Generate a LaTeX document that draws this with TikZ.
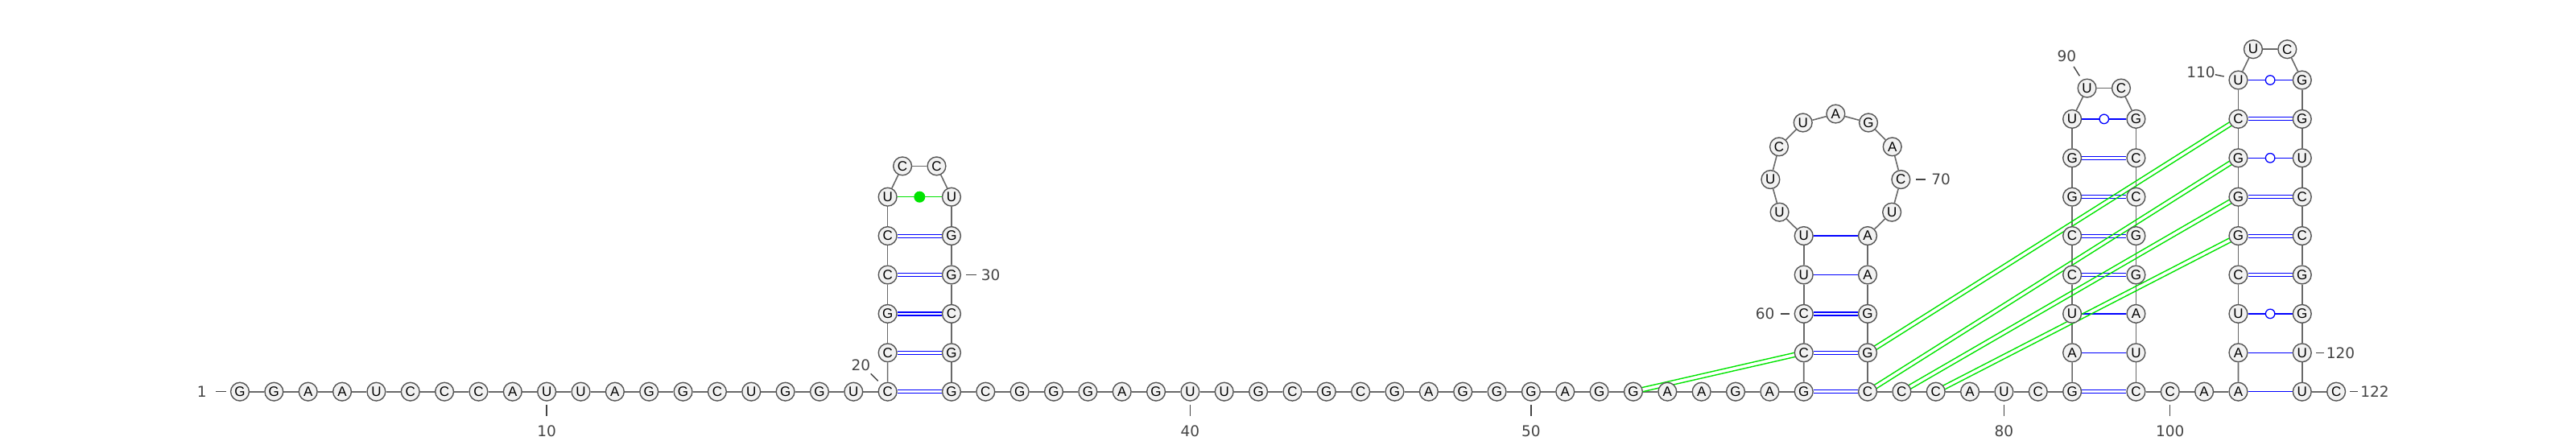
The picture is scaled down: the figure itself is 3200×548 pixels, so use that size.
\documentclass[tikz,border=0pt]{standalone}
\usepackage{fontspec}
\newfontfamily\ntfam{Liberation Sans}
\newfontfamily\lblfam{DejaVu Sans}
\usetikzlibrary{calc,backgrounds}
\definecolor{ntfill}{RGB}{242,242,242}
\definecolor{ntdraw}{RGB}{85,85,85}
\definecolor{bbcol}{RGB}{105,105,105}
\definecolor{lblcol}{RGB}{68,68,68}
\definecolor{pkgreen}{RGB}{0,228,0}
\definecolor{bpblue}{RGB}{0,0,255}
\begin{document}
\begin{tikzpicture}[x=1pt,y=-1pt,
  nt/.style={circle, draw=ntdraw, fill=ntfill, line width=1.4pt, minimum size=22.8pt, inner sep=0pt, font=\ntfam\fontsize{17}{17}\selectfont},
  bb/.style={draw=bbcol, line width=1.6pt},
  bps/.style={draw=bpblue, line width=1.3pt},
  bpd/.style={draw=bpblue, line width=1.2pt, double=white, double distance=2.8pt},
  wob/.style={circle, draw=bpblue, fill=white, line width=1.3pt, minimum size=11.5pt, inner sep=0pt},
  pk/.style={draw=pkgreen, line width=1.4pt},
  gdot/.style={circle, fill=pkgreen, minimum size=14pt, inner sep=0pt},
  lbl/.style={text=lblcol, inner sep=0pt, font=\lblfam\fontsize{18.5}{18.5}\selectfont},
  tk/.style={draw=lblcol, line width=1.4pt}]
\useasboundingbox (0,0) rectangle (3200,548);
\def\by{486.7}
\def\rs{48.4}
% ---- nucleotides ----
\foreach \b [count=\i] in {G,G,A,A,U,C,C,C,A,U,U,A,G,G,C,U,G,G,U,C}
  \node[nt] (n\i) at ({298+(\i-1)*42.35},\by) {\b};
\foreach \b [count=\k] in {C,G,C,C,U}
  {\pgfmathtruncatemacro\i{20+\k}\node[nt] (n\i) at (1102.65,{\by-\k*\rs}) {\b};}
\node[nt] (n26) at (1121.12,206.4) {C};
\node[nt] (n27) at (1163.48,206.4) {C};
\foreach \b [count=\k] in {U,G,G,C,G,G}
  {\pgfmathtruncatemacro\i{27+\k}\node[nt] (n\i) at (1181.95,{\by-(6-\k)*\rs}) {\b};}
\foreach \b [count=\k] in {C,G,G,G,A,G,U,U,G,C,G,C,G,A,G,G,G,A,G,G,A,A,G,A,G}
  {\pgfmathtruncatemacro\i{33+\k}\node[nt] (n\i) at ({1181.95+\k*42.35},\by) {\b};}
\foreach \b [count=\k] in {C,C,U,U}
  {\pgfmathtruncatemacro\i{58+\k}\node[nt] (n\i) at (2240.7,{\by-\k*\rs}) {\b};}
\foreach \b [count=\k] in {U,U,C,U,A,G,A,C,U}
  {\pgfmathtruncatemacro\i{62+\k}\pgfmathsetmacro\ang{240.68-\k*30.136}
   \node[nt] (n\i) at ({2280.35+81*cos(\ang)},{222.5-81*sin(\ang)}) {\b};}
\foreach \b [count=\k] in {A,A,G,G,C}
  {\pgfmathtruncatemacro\i{71+\k}\node[nt] (n\i) at (2320,{\by-(5-\k)*\rs}) {\b};}
\foreach \b [count=\k] in {C,C,A,U,C,G}
  {\pgfmathtruncatemacro\i{76+\k}\node[nt] (n\i) at ({2320+\k*42.35},\by) {\b};}
\foreach \b [count=\k] in {A,U,C,C,G,G,U}
  {\pgfmathtruncatemacro\i{82+\k}\node[nt] (n\i) at (2574.1,{\by-\k*\rs}) {\b};}
\node[nt] (n90) at (2592.57,109.6) {U};
\node[nt] (n91) at (2634.93,109.6) {C};
\foreach \b [count=\k] in {G,C,C,G,G,A,U,C}
  {\pgfmathtruncatemacro\i{91+\k}\node[nt] (n\i) at (2653.4,{\by-(8-\k)*\rs}) {\b};}
\foreach \b [count=\k] in {C,A,A}
  {\pgfmathtruncatemacro\i{99+\k}\node[nt] (n\i) at ({2653.4+\k*42.35},\by) {\b};}
\foreach \b [count=\k] in {A,U,C,G,G,G,C,U}
  {\pgfmathtruncatemacro\i{102+\k}\node[nt] (n\i) at (2780.45,{\by-\k*\rs}) {\b};}
\node[nt] (n111) at (2798.92,61.2) {U};
\node[nt] (n112) at (2841.28,61.2) {C};
\foreach \b [count=\k] in {G,G,U,C,C,G,G,U,U}
  {\pgfmathtruncatemacro\i{112+\k}\node[nt] (n\i) at (2859.75,{\by-(9-\k)*\rs}) {\b};}
\node[nt] (n122) at (2902.1,\by) {C};
% ---- connectors behind the circles ----
\begin{pgfonlayer}{background}
  \foreach \i in {1,...,121}
    {\pgfmathtruncatemacro\j{\i+1}\draw[bb] (n\i) -- (n\j);}
  % Watson-Crick G-C pairs
  \foreach \a/\c in {20/33,21/32,22/31,23/30,24/29,58/76,59/75,60/74,82/99,85/96,86/95,87/94,88/93,105/118,106/117,107/116,109/114}
    \draw[bpd] (n\a) -- (n\c);
  % A-U pairs
  \foreach \a/\c in {61/73,62/72,83/98,84/97,102/121,103/120}
    \draw[bps] (n\a) -- (n\c);
  % G-U wobble pairs
  \foreach \a/\c in {89/92,104/119,108/115,110/113}
    \draw[bps] (n\a) -- (n\c);
  % U-U pair
  \draw[pk] (n25) -- (n28);
  % pseudoknot pairs
  \foreach \a/\c in {53/59,75/109,76/108,77/107,78/106}
    {\draw[pk, shorten <=11.2pt, shorten >=11.2pt] ($(n\a.center)!2.6pt!90:(n\c.center)$) -- ($(n\c.center)!2.6pt!-90:(n\a.center)$);
     \draw[pk, shorten <=11.2pt, shorten >=11.2pt] ($(n\a.center)!2.6pt!-90:(n\c.center)$) -- ($(n\c.center)!2.6pt!90:(n\a.center)$);}
\end{pgfonlayer}
% wobble markers and U-U dot
\foreach \a/\c in {89/92,104/119,108/115,110/113}
  \node[wob] (w\a) at ($(n\a)!0.5!(n\c)$) {};
\node[gdot] (uu) at ($(n25)!0.5!(n28)$) {};
% ---- numbering ----
\node[lbl] (l1) at (250.7,\by) {1};
\draw[tk] (268,\by) -- (281,\by);
\foreach \i in {10,40,50,80,100}
  {\draw[tk] ([yshift=-16.6pt]n\i.center) -- ([yshift=-30pt]n\i.center);
   \node[lbl] (l\i) at ([yshift=-49.5pt]n\i.center) {\i};}
\node[lbl] (l20) at (1069.3,453.3) {20};
\draw[tk] (1081.7,464.3) -- (1090.7,473.3);
\node[lbl] (l30) at (1230.7,341.5) {30};
\draw[tk] (1200,341.5) -- (1213.3,341.5);
\node[lbl] (l60) at (2192.7,389.9) {60};
\draw[tk] (2211.7,389.9) -- (2223.3,389.9);
\node[lbl] (l70) at (2411,223.1) {70};
\draw[tk] (2380,223.1) -- (2392.3,223.1);
\node[lbl] (l90) at (2567.3,69.3) {90};
\draw[tk] (2576,82.7) -- (2583.3,94.3);
\node[lbl] (l110) at (2734,89.3) {110};
\draw[tk] (2751.7,92.7) -- (2762.7,95);
\node[lbl] (l120) at (2907.5,438.3) {120};
\draw[tk] (2877,438.3) -- (2886.7,438.3);
\node[lbl] (l122) at (2950,\by) {122};
\draw[tk] (2919,\by) -- (2929,\by);
\end{tikzpicture}
\end{document}
